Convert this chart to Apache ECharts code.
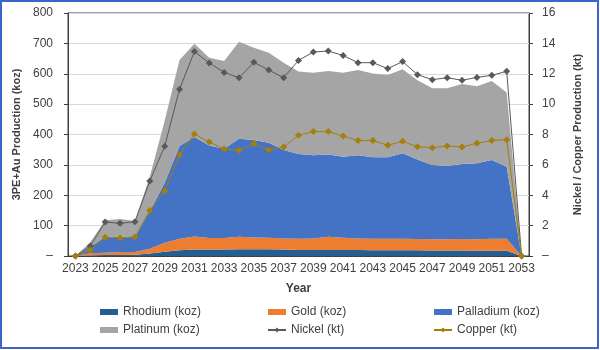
<!DOCTYPE html>
<html>
<head>
<meta charset="utf-8">
<script src="https://cdn.jsdelivr.net/npm/echarts@6/dist/echarts.min.js"></script>
<style>
  html, body { margin: 0; padding: 0; background: #fff; }
  #chart { width: 600px; height: 350px; }
</style>
</head>
<body>
<div id="chart"></div>
<script>
var years = ['2023', '2024', '2025', '2026', '2027', '2028', '2029', '2030', '2031', '2032',
  '2033', '2034', '2035', '2036', '2037', '2038', '2039', '2040', '2041', '2042',
  '2043', '2044', '2045', '2046', '2047', '2048', '2049', '2050', '2051', '2052', '2053']

// koz
var rhodium = [0, 2, 3, 3, 4, 8, 14, 19, 21, 21, 21, 22, 22, 22, 21, 20, 20, 20, 20, 20,
  19, 19, 19, 19, 18, 18, 18, 17, 17, 17, 0]
var gold = [0, 7, 8, 10, 9, 16, 30, 38, 43, 38, 38, 41, 39, 38, 37, 37, 38, 43, 40, 38,
  38, 38, 38, 37, 37, 37, 38, 38, 40, 40, 0]
var palladium = [0, 21, 53, 51, 49, 124, 196, 305, 328, 305, 294, 323, 321, 313, 291, 279, 274, 271, 267, 274,
  268, 268, 281, 262, 245, 241, 247, 250, 259, 237, 0]
var platinum = [0, 15, 54, 58, 53, 113, 205, 283, 307, 289, 289, 319, 304, 296, 287, 271, 271, 275, 276, 280,
  276, 271, 277, 261, 252, 256, 263, 254, 260, 244, 0]

// kt
var nickel = [0, 0.66, 2.24, 2.15, 2.26, 4.94, 7.22, 10.98, 13.46, 12.71, 12.09, 11.74, 12.75, 12.25, 11.74, 12.88,
  13.43, 13.5, 13.2, 12.73, 12.73, 12.34, 12.8, 11.94, 11.61, 11.74, 11.57, 11.76, 11.9, 12.16, 0]
var copper = [0, 0.4, 1.23, 1.19, 1.25, 3.0, 4.28, 6.67, 8.03, 7.5, 7.05, 6.96, 7.4, 6.98, 7.18, 7.95,
  8.19, 8.19, 7.9, 7.6, 7.6, 7.29, 7.55, 7.2, 7.13, 7.24, 7.18, 7.42, 7.6, 7.66, 0]

var font = 'Liberation Sans'
var textColor = '#404040'

var dash = function (v) { return v === 0 ? '–' : v }

var areaSeries = function (name, data, color) {
  return {
    name: name,
    type: 'line',
    stack: 'koz',
    data: data,
    symbol: 'none',
    lineStyle: { width: 0 },
    areaStyle: { color: color, opacity: 1 },
    itemStyle: { color: color }
  }
}

var lineSeries = function (name, data, color) {
  return {
    name: name,
    type: 'line',
    yAxisIndex: 1,
    data: data,
    symbol: 'diamond',
    symbolSize: 7,
    z: 5,
    lineStyle: { width: 1, color: color },
    itemStyle: { color: color }
  }
}

var legendCol = function (left, names) {
  return {
    left: left,
    top: 300,
    orient: 'vertical',
    itemWidth: 18,
    itemHeight: 6,
    itemGap: 4,
    data: names,
    textStyle: { fontFamily: font, fontSize: 12, color: textColor, lineHeight: 14 }
  }
}

var chart = echarts.init(document.getElementById('chart'), null, { renderer: 'canvas' })

chart.setOption({
  animation: false,
  backgroundColor: '#fff',
  textStyle: { fontFamily: font },
  graphic: [{
    type: 'rect',
    shape: { x: 1, y: 1, width: 597, height: 347 },
    style: { fill: 'none', stroke: '#3E66C8', lineWidth: 2 }
  }],
  grid: {
    left: 68, right: 71, top: 13, bottom: 94,
    show: true, borderColor: '#404040', borderWidth: 1
  },
  legend: [
    legendCol(95, [{ name: 'Rhodium (koz)', icon: 'rect' }, { name: 'Platinum (koz)', icon: 'rect' }]),
    legendCol(262, [{ name: 'Gold (koz)', icon: 'rect' }, 'Nickel (kt)']),
    legendCol(428, [{ name: 'Palladium (koz)', icon: 'rect' }, 'Copper (kt)'])
  ],
  xAxis: {
    type: 'category',
    data: years,
    boundaryGap: true,
    name: 'Year',
    nameLocation: 'middle',
    nameGap: 27,
    nameTextStyle: { fontFamily: font, fontSize: 12, fontWeight: 'bold', color: textColor },
    axisLine: { lineStyle: { color: '#404040' } },
    axisTick: { interval: 0, length: 4, lineStyle: { color: '#404040' } },
    axisLabel: { interval: 1, fontFamily: font, fontSize: 12, color: textColor, margin: 7 }
  },
  yAxis: [{
    type: 'value',
    min: 0, max: 800, interval: 100,
    name: '3PE+Au Production (koz)',
    nameLocation: 'middle',
    nameGap: 45,
    nameTextStyle: { fontFamily: font, fontSize: 11, fontWeight: 'bold', color: textColor },
    axisLine: { show: true, lineStyle: { color: '#404040' } },
    axisTick: { show: true, length: 4, lineStyle: { color: '#404040' } },
    axisLabel: { fontFamily: font, fontSize: 12, color: textColor, margin: 15, formatter: dash },
    splitLine: { lineStyle: { color: '#D9D9D9' } }
  }, {
    type: 'value',
    min: 0, max: 16, interval: 2,
    name: 'Nickel / Copper Production (kt)',
    nameLocation: 'middle',
    nameGap: 43,
    nameTextStyle: { fontFamily: font, fontSize: 11, fontWeight: 'bold', color: textColor },
    axisLine: { show: true, lineStyle: { color: '#404040' } },
    axisTick: { show: true, length: 4, lineStyle: { color: '#404040' } },
    axisLabel: { fontFamily: font, fontSize: 12, color: textColor, margin: 13, formatter: dash },
    splitLine: { show: false }
  }],
  series: [
    areaSeries('Rhodium (koz)', rhodium, '#255E91'),
    areaSeries('Gold (koz)', gold, '#ED7D31'),
    areaSeries('Palladium (koz)', palladium, '#4472C4'),
    areaSeries('Platinum (koz)', platinum, '#A5A5A5'),
    lineSeries('Nickel (kt)', nickel, '#595959'),
    lineSeries('Copper (kt)', copper, '#A57E0C')
  ]
})
</script>
</body>
</html>
